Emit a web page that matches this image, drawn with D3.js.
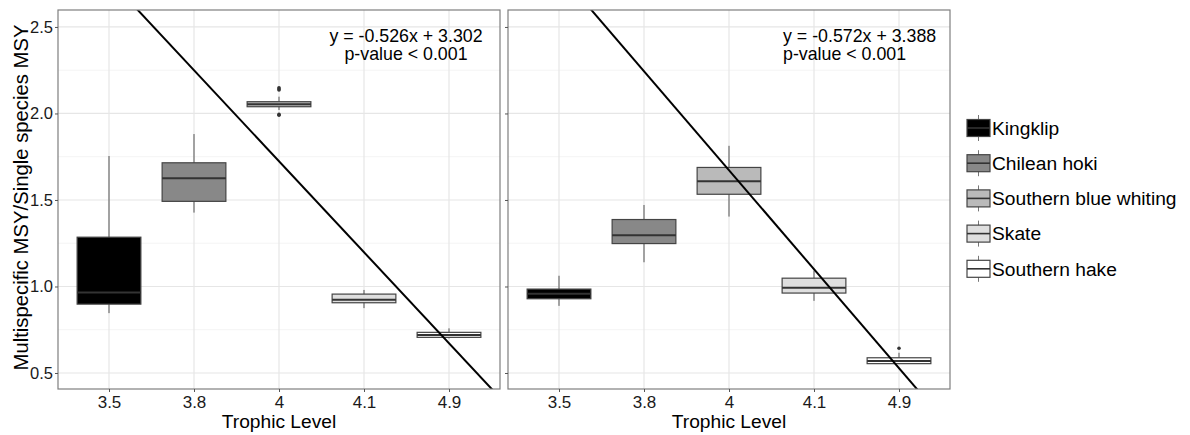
<!DOCTYPE html>
<html>
<head>
<meta charset="utf-8">
<script src="https://cdn.jsdelivr.net/npm/d3@7"></script>
<style>
  body { margin: 0; background: #fff; }
  svg { display: block; font-family: "Liberation Sans", Arial, sans-serif; }
</style>
</head>
<body>
<svg id="chart" width="1190" height="435"></svg>
<script>
// categories (discrete x, in plotting order)
const trophicLevels = ["3.5", "3.8", "4", "4.1", "4.9"];
const species = ["Kingklip", "Chilean hoki", "Southern blue whiting", "Skate", "Southern hake"];
const fills = ["#000000", "#888888", "#bababa", "#dfdfdf", "#ffffff"];

// box stats per panel: [lower whisker, q1, median, q3, upper whisker]
const statsLeft = [
  [0.846, 0.898, 0.965, 1.285, 1.754],
  [1.427, 1.492, 1.625, 1.715, 1.881],
  [2.020, 2.039, 2.053, 2.068, 2.097],
  [0.875, 0.906, 0.923, 0.956, 0.980],
  [0.700, 0.706, 0.720, 0.735, 0.758]
];
const outliersLeft = [[], [], [2.149, 2.141, 2.136, 1.995, 1.990], [], []];

const statsRight = [
  [0.888, 0.929, 0.958, 0.985, 1.062],
  [1.140, 1.248, 1.296, 1.387, 1.471],
  [1.404, 1.533, 1.608, 1.688, 1.813],
  [0.917, 0.962, 0.992, 1.048, 1.092],
  [0.554, 0.554, 0.570, 0.588, 0.617]
];
const outliersRight = [[], [], [], [], [0.643]];

// regression fits (x = category position 1..5)
const slopes = [-0.526, -0.572];
const intercepts = [3.302, 3.388];
const fitLabels = [
  ["y = -0.526x + 3.302", "p-value < 0.001"],
  ["y = -0.572x + 3.388", "p-value < 0.001"]
];

const yTicks = [0.5, 1.0, 1.5, 2.0, 2.5];
const yMinor = [0.75, 1.25, 1.75, 2.25];

const svg = d3.select("#chart");
const plotTop = 10, plotBottom = 389, panelW = 442;
const panelX = [58, 508];

const y = d3.scaleLinear().domain([0.4075, 2.598]).range([plotBottom, plotTop]);

const panels = [
  { stats: statsLeft, outliers: outliersLeft },
  { stats: statsRight, outliers: outliersRight }
];

panels.forEach((p, pi) => {
  const x0 = panelX[pi];
  const x = d3.scaleLinear().domain([0.4, 5.6]).range([x0, x0 + panelW]);
  const bw = x(1.75) - x(1);
  const g = svg.append("g");

  const clipId = "clip" + pi;
  svg.append("clipPath").attr("id", clipId)
    .append("rect").attr("x", x0).attr("y", plotTop).attr("width", panelW).attr("height", plotBottom - plotTop);

  // grid
  g.append("g").selectAll("line").data(yMinor).join("line")
    .attr("x1", x0).attr("x2", x0 + panelW)
    .attr("y1", d => y(d)).attr("y2", d => y(d))
    .attr("stroke", "#f4f4f4").attr("stroke-width", 1);
  g.append("g").selectAll("line").data(yTicks).join("line")
    .attr("x1", x0).attr("x2", x0 + panelW)
    .attr("y1", d => y(d)).attr("y2", d => y(d))
    .attr("stroke", "#e6e6e6").attr("stroke-width", 1.2);
  g.append("g").selectAll("line").data(d3.range(1, 6)).join("line")
    .attr("x1", d => x(d)).attr("x2", d => x(d))
    .attr("y1", plotTop).attr("y2", plotBottom)
    .attr("stroke", "#e6e6e6").attr("stroke-width", 1.2);

  // boxes
  const boxes = g.append("g").selectAll("g").data(p.stats).join("g");
  boxes.append("line")
    .attr("x1", (d, i) => x(i + 1)).attr("x2", (d, i) => x(i + 1))
    .attr("y1", d => y(d[0])).attr("y2", d => y(d[4]))
    .attr("stroke", "#555").attr("stroke-width", 1);
  boxes.append("rect")
    .attr("x", (d, i) => x(i + 1) - bw / 2).attr("width", bw)
    .attr("y", d => y(d[3])).attr("height", d => Math.max(1, y(d[1]) - y(d[3])))
    .attr("fill", (d, i) => fills[i])
    .attr("stroke", "#444").attr("stroke-width", 1.2);
  boxes.append("line")
    .attr("x1", (d, i) => x(i + 1) - bw / 2).attr("x2", (d, i) => x(i + 1) + bw / 2)
    .attr("y1", d => y(d[2])).attr("y2", d => y(d[2]))
    .attr("stroke", "#333").attr("stroke-width", 2);

  p.outliers.forEach((arr, i) => {
    g.append("g").selectAll("circle").data(arr).join("circle")
      .attr("cx", x(i + 1)).attr("cy", d => y(d)).attr("r", 1.8)
      .attr("fill", "#333");
  });

  // regression line
  g.append("line")
    .attr("clip-path", `url(#${clipId})`)
    .attr("x1", x(0.4)).attr("x2", x(5.6))
    .attr("y1", y(slopes[pi] * 0.4 + intercepts[pi]))
    .attr("y2", y(slopes[pi] * 5.6 + intercepts[pi]))
    .attr("stroke", "#000").attr("stroke-width", 2);

  // fit labels
  const lbl = g.append("text")
    .attr("font-size", 17.8).attr("fill", "#000")
    .attr("text-anchor", pi === 0 ? "middle" : "start");
  fitLabels[pi].forEach((t, k) => {
    lbl.append("tspan")
      .attr("x", pi === 0 ? x0 + panelW - 94 : x0 + panelW - 167)
      .attr("y", 42 + k * 18)
      .text(t);
  });

  // panel border
  g.append("rect")
    .attr("x", x0).attr("y", plotTop).attr("width", panelW).attr("height", plotBottom - plotTop)
    .attr("fill", "none").attr("stroke", "#7f7f7f").attr("stroke-width", 1.2);

  // axes
  const xAxis = g.append("g").attr("transform", `translate(0,${plotBottom})`)
    .call(d3.axisBottom(x).tickValues(d3.range(1, 6)).tickSize(3).tickPadding(4)
      .tickFormat(d => trophicLevels[d - 1]));
  xAxis.select(".domain").remove();
  xAxis.selectAll(".tick line").attr("stroke", "#555");
  xAxis.selectAll("text").attr("font-size", 17).attr("fill", "#1a1a1a")
    .attr("font-family", "Liberation Sans, Arial, sans-serif");

  const yAxis = g.append("g").attr("transform", `translate(${x0},0)`)
    .call(d3.axisLeft(y).tickValues(yTicks).tickSize(3).tickPadding(2)
      .tickFormat(d3.format(".1f")));
  yAxis.select(".domain").remove();
  yAxis.selectAll(".tick line").attr("stroke", "#555");
  yAxis.selectAll("text").attr("font-size", 16.5).attr("fill", "#1a1a1a")
    .attr("font-family", "Liberation Sans, Arial, sans-serif");
  if (pi === 1) yAxis.selectAll("text").remove();

  g.append("text")
    .attr("x", x0 + panelW / 2).attr("y", 428)
    .attr("text-anchor", "middle").attr("font-size", 19.2).attr("fill", "#000")
    .text("Trophic Level");
});

// y title
svg.append("text")
  .attr("transform", `translate(27.5,${(plotTop + plotBottom) / 2 - 2}) rotate(-90)`)
  .attr("text-anchor", "middle").attr("font-size", 20.3).attr("fill", "#000")
  .text("Multispecific MSY/Single species MSY");

// legend
const legend = svg.append("g").attr("transform", "translate(967,128)");
const rows = legend.selectAll("g").data(species).join("g")
  .attr("transform", (d, i) => `translate(0,${i * 35.2})`);
rows.append("line")
  .attr("x1", 11.5).attr("x2", 11.5).attr("y1", -13).attr("y2", 13)
  .attr("stroke", "#777").attr("stroke-width", 1);
rows.append("rect")
  .attr("x", 0).attr("y", -8.5).attr("width", 23).attr("height", 17)
  .attr("fill", (d, i) => fills[i]).attr("stroke", "#444").attr("stroke-width", 1.2);
rows.append("line")
  .attr("x1", 0).attr("x2", 23).attr("y1", 0).attr("y2", 0)
  .attr("stroke", "#333").attr("stroke-width", 1.6);
rows.append("text")
  .attr("x", 25).attr("y", 6.8)
  .attr("font-size", 19.2).attr("fill", "#000")
  .text(d => d);
</script>
</body>
</html>
